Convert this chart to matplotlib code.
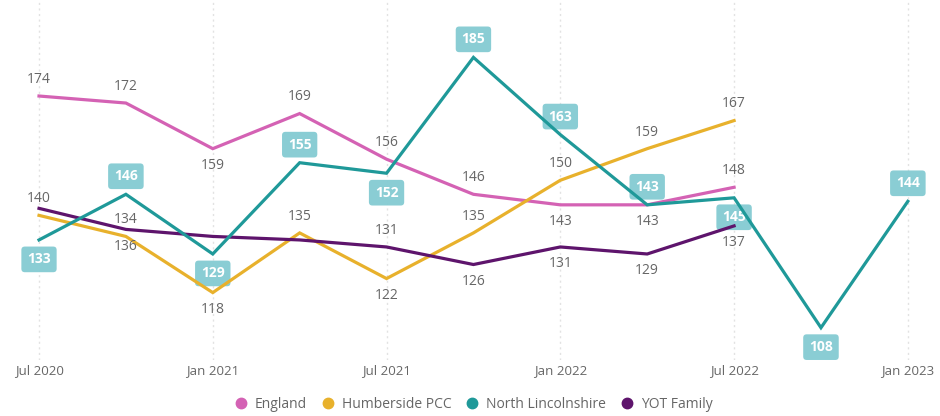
import matplotlib.pyplot as plt
from matplotlib.lines import Line2D

plt.rcParams['font.family'] = ['Open Sans', 'DejaVu Sans']

# quarterly periods, Jul 2020 .. Jan 2023
periods = ['Jul 2020', 'Oct 2020', 'Jan 2021', 'Apr 2021', 'Jul 2021', 'Oct 2021',
           'Jan 2022', 'Apr 2022', 'Jul 2022', 'Oct 2022', 'Jan 2023']
tick_labels = ['Jul 2020', 'Jan 2021', 'Jul 2021', 'Jan 2022', 'Jul 2022', 'Jan 2023']

england = [174, 172, 159, 169, 156, 146, 143, 143, 148]
humberside = [140, 134, 118, 135, 122, 135, 150, 159, 167]
north_lincs = [133, 146, 129, 155, 152, 185, 163, 143, 145, 108, 144]
yot_family = [142, 136, 134, 133, 131, 126, 131, 129, 137]

# where each value label goes: a = above, b = below, None = hidden
england_pos = ['a', 'a', 'b', 'a', 'a', 'a', 'b', 'b', 'a']
humberside_pos = ['a', 'a', 'b', 'a', 'b', 'a', 'a', 'a', 'a']
north_lincs_pos = ['b', 'a', 'b', 'a', 'b', 'a', 'a', 'a', 'b', 'b', 'a']
yot_pos = [None, 'b', None, None, 'a', 'b', 'b', 'b', 'b']

c_eng = '#d462b4'
c_hum = '#e8b12c'
c_nl = '#1f9999'
c_yot = '#5e146c'
c_box = '#84cbd2'
c_text = '#666666'

fig = plt.figure(figsize=(9.4, 4.16), dpi=100)
ax = fig.add_axes([0, 56 / 416, 1, 360 / 416])

x_all = list(range(len(periods)))

for vals, col in [(england, c_eng), (humberside, c_hum), (yot_family, c_yot)]:
    ax.plot(x_all[:len(vals)], vals, color=col, lw=2.3, solid_joinstyle='miter', zorder=3)
ax.plot(x_all, north_lincs, color=c_nl, lw=2.3, solid_joinstyle='miter', zorder=4)


def plain_labels(vals, pos, off=12):
    for i, (v, p) in enumerate(zip(vals, pos)):
        if p is None:
            continue
        dy = off if p == 'a' else -off
        ax.annotate(str(v), (i, v), xytext=(0, dy), textcoords='offset points',
                    ha='center', va='center', fontsize=10, color=c_text, zorder=5)


plain_labels(england, england_pos)
plain_labels(humberside, humberside_pos)
plain_labels(yot_family, yot_pos)

for i, (v, p) in enumerate(zip(north_lincs, north_lincs_pos)):
    dy = 13 if p == 'a' else -14
    ax.annotate(str(v), (i, v), xytext=(0, dy), textcoords='offset points',
                ha='center', va='center', fontsize=10, fontweight='bold', color='white',
                zorder=2,
                bbox=dict(boxstyle='round,pad=0.42,rounding_size=0.25', fc=c_box,
                          ec='none', alpha=0.95))

# axis ranges chosen so the quarters fill the width
ax.set_xlim(-0.449, 10.37)
ax.set_ylim(98.8, 201.35)
ax.set_xticks(x_all[::2])
ax.set_xticklabels(tick_labels, fontsize=9.5, color=c_text)
ax.tick_params(axis='x', length=0, pad=3)
ax.set_yticks([])
for s in ax.spines.values():
    s.set_visible(False)
ax.grid(axis='x', color='#e2e2e2', linestyle=(0, (1.5, 2.5)), lw=1)
ax.set_axisbelow(True)

handles = [Line2D([], [], marker='o', ls='none', color=c, markersize=7.5)
           for c in (c_eng, c_hum, c_nl, c_yot)]
fig.legend(handles, ['England', 'Humberside PCC', 'North Lincolnshire', 'YOT Family'],
           loc='center', bbox_to_anchor=(0.5, 12 / 416), ncol=4, frameon=False,
           handletextpad=0.0, columnspacing=0.5, fontsize=10, labelcolor=c_text)

fig.savefig('out.png', dpi=100, facecolor='white')
